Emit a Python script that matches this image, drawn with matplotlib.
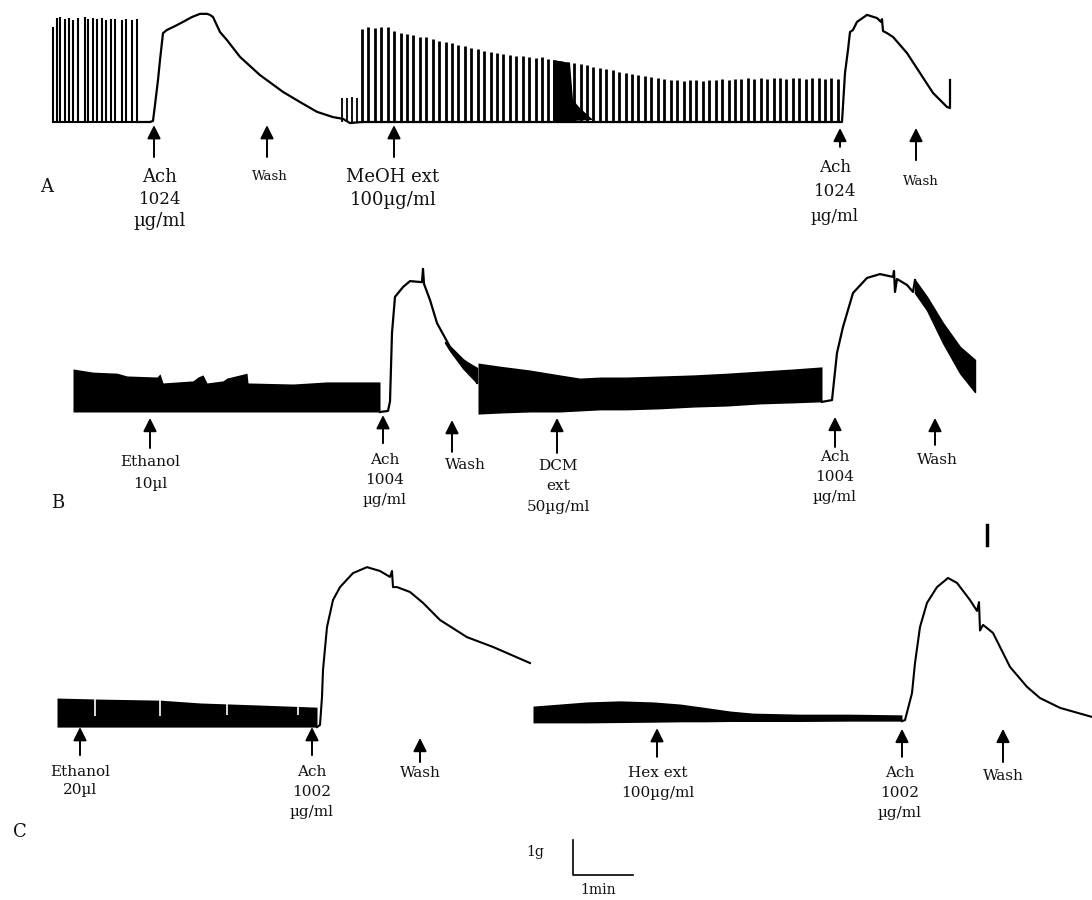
import matplotlib.pyplot as plt
import numpy as np

plt.rcParams['font.family'] = 'DejaVu Serif'

# time axis in s (60 s = 1 min on the scale bar), tension in g

# ---- trace A ----
a_pre_t = [53, 57, 60, 65, 69, 73, 78, 85, 88, 93, 97, 102, 106, 111, 115, 122, 126, 132, 137]
a_pre_h = [2.71, 2.97, 3.0, 2.94, 2.97, 2.91, 2.97, 3.0, 2.94, 2.97, 2.94, 2.97, 2.91, 2.94,
           2.94, 2.91, 2.94, 2.91, 2.94]
a_ach1_t = [137, 150, 153, 155, 158, 160, 163, 167, 175, 183, 192, 200, 207, 210, 213, 220, 227,
            240, 260, 283, 300, 317, 333, 343, 350, 362]
a_ach1_g = [0, 0, 0.03, 0.49, 1.20, 1.77, 2.54, 2.63, 2.74, 2.86, 3.0, 3.09, 3.09, 3.06, 3.0, 2.57,
            2.34, 1.86, 1.34, 0.86, 0.57, 0.29, 0.14, 0.09, -0.03, 0]
a_small_t = [342, 347, 352, 357]
a_small_h = [0.69, 0.69, 0.71, 0.69]
a_meoh_start = 362
a_meoh_period = 6.43
a_meoh_h = [2.66, 2.71, 2.69, 2.71, 2.71, 2.60, 2.54, 2.51, 2.49, 2.43, 2.43, 2.37, 2.31, 2.29, 2.26,
            2.20, 2.17, 2.11, 2.09, 2.03, 2.0, 1.97, 1.94, 1.91, 1.89, 1.89, 1.86, 1.83, 1.86, 1.80,
            1.77, 1.74, 1.71, 1.69, 1.66, 1.63, 1.57, 1.54, 1.51, 1.49, 1.43, 1.40, 1.37, 1.34, 1.31,
            1.29, 1.26, 1.23, 1.20, 1.20, 1.17, 1.20, 1.20, 1.17, 1.20, 1.20, 1.23, 1.20, 1.23, 1.23,
            1.26, 1.23, 1.26, 1.23, 1.26, 1.26, 1.23, 1.26, 1.26, 1.23, 1.26, 1.26, 1.23, 1.26, 1.23]
a_burst_t = [553, 553, 570, 573, 580, 593]
a_burst_g = [0, 1.77, 1.69, 0.63, 0.4, 0.06]
a_ach2_t = [362, 842, 845, 848, 850, 853, 857, 867, 877, 881, 882, 883, 887, 893, 907, 920, 933,
            947, 950, 950]
a_ach2_g = [0, 0, 1.4, 2.06, 2.57, 2.63, 2.86, 3.06, 2.97, 2.86, 2.94, 2.6, 2.54, 2.43, 1.97, 1.40,
            0.83, 0.43, 0.40, 1.2]
a_events = [154, 267, 394, 840, 916]

# ---- trace B ----
b_blk1_t = [73, 93, 117, 127, 157, 160, 163, 193, 198, 203, 207, 223, 227, 240, 247, 248, 293,
            327, 360, 380]
b_blk1_top = [1.23, 1.14, 1.11, 1.03, 1.0, 1.09, 0.83, 0.89, 1.0, 1.06, 0.83, 0.89, 0.97, 1.06,
              1.11, 0.83, 0.8, 0.86, 0.86, 0.86]
b_ach1_t = [380, 388, 390, 392, 395, 403, 410, 422, 423, 424, 430, 437, 450, 463, 477, 477]
b_ach1_g = [0, 0.03, 0.3, 2.26, 3.29, 3.57, 3.74, 3.71, 4.09, 3.66, 3.2, 2.54, 1.86, 1.49, 1.2, 0.83]
b_band1_t = [445, 450, 463, 477]
b_band1_top = [2.0, 1.86, 1.49, 1.26]
b_band1_bot = [1.98, 1.75, 1.25, 0.83]
b_blk2_t = [478, 500, 530, 560, 580, 600, 627, 660, 693, 727, 760, 793, 822]
b_blk2_top = [1.4, 1.31, 1.2, 1.06, 0.97, 1.0, 1.0, 1.03, 1.06, 1.11, 1.17, 1.23, 1.29]
b_blk2_bot = [-0.06, -0.03, 0, 0, 0.03, 0.06, 0.06, 0.09, 0.14, 0.17, 0.23, 0.26, 0.29]
b_ach2_t = [822, 832, 837, 843, 853, 867, 880, 893, 894, 895, 897, 907, 913, 915]
b_ach2_g = [0.29, 0.34, 1.69, 2.43, 3.4, 3.83, 3.94, 3.86, 4.03, 3.43, 3.8, 3.63, 3.43, 3.77]
b_band2_t = [915, 927, 943, 960, 975]
b_band2_top = [3.77, 3.29, 2.54, 1.86, 1.49]
b_band2_bot = [3.4, 2.91, 1.97, 1.11, 0.57]
b_events = [150, 383, 452, 557, 835, 935]

# ---- trace C ----
c_blk1_t = [57, 100, 160, 200, 260, 317]
c_blk1_top = [0.77, 0.74, 0.71, 0.63, 0.57, 0.51]
c_blk1_bot = [-0.06, -0.06, -0.06, -0.06, -0.06, -0.06]
c_gap_t = [95, 160, 227, 298]
c_gap_g = [0.25, 0.25, 0.3, 0.3]
c_ach1_t = [317, 320, 322, 323, 327, 333, 340, 353, 367, 380, 390, 392, 393, 397, 410, 423, 440,
            467, 493, 530]
c_ach1_g = [-0.06, 0, 0.8, 1.57, 2.8, 3.57, 3.94, 4.34, 4.51, 4.4, 4.23, 4.4, 3.94, 3.94, 3.8, 3.49,
            3.0, 2.51, 2.23, 1.77]
c_blk2_t = [533, 560, 587, 620, 653, 680, 703, 730, 753, 800, 850, 902]
c_blk2_top = [0.54, 0.6, 0.66, 0.69, 0.66, 0.6, 0.51, 0.4, 0.34, 0.31, 0.31, 0.29]
c_blk2_bot = [0.06, 0.06, 0.06, 0.07, 0.08, 0.09, 0.09, 0.1, 0.1, 0.1, 0.11, 0.11]
c_ach2_t = [902, 905, 912, 915, 920, 927, 937, 948, 957, 970, 977, 979, 980, 983, 987, 993, 1010,
            1027, 1040, 1060, 1092]
c_ach2_g = [0.11, 0.14, 0.91, 1.77, 2.8, 3.49, 3.94, 4.2, 4.06, 3.57, 3.26, 3.51, 2.7, 2.86, 2.77,
            2.63, 1.66, 1.09, 0.77, 0.49, 0.23]
c_events = [80, 312, 420, 657, 902, 1003]


def panel_axes(fig, top_px, bottom_px, base_px):
    # 35 px per g, 1 px per s
    ax = fig.add_axes([0, 1 - bottom_px / 900, 1, (bottom_px - top_px) / 900])
    ax.set_xlim(0, 1092)
    ax.set_ylim((base_px - bottom_px) / 35, (base_px - top_px) / 35)
    ax.axis('off')
    return ax


def arrow(ax, t, top, bottom):
    ax.annotate('', xy=(t, top), xytext=(t, bottom),
                arrowprops=dict(arrowstyle='-|>', color='k', lw=1.4,
                                mutation_scale=20, shrinkA=0, shrinkB=0))


def label(ax, t, y, text, size=11):
    ax.text(t, y, text, ha='center', va='center', fontsize=size, color='#111111')


fig = plt.figure(figsize=(10.92, 9), dpi=100)

# ---------- A ----------
ax = panel_axes(fig, 0, 240, 122)
ax.vlines(a_pre_t, 0, a_pre_h, color='k', lw=1.5)
ax.plot([a_pre_t[0], a_pre_t[-1]], [0, 0], color='k', lw=1.5)
ax.plot(a_ach1_t, a_ach1_g, color='k', lw=1.6)
ax.vlines(a_small_t, 0, a_small_h, color='k', lw=1.3)
a_meoh_t = a_meoh_start + a_meoh_period * np.arange(len(a_meoh_h))
ax.vlines(a_meoh_t, 0, a_meoh_h, color='k', lw=2.0)
ax.fill(a_burst_t, a_burst_g, color='k', lw=0)
ax.plot(a_ach2_t, a_ach2_g, color='k', lw=1.6)

arrow(ax, a_events[0], -0.09, -1.0)
arrow(ax, a_events[1], -0.09, -1.0)
arrow(ax, a_events[2], -0.09, -1.0)
arrow(ax, a_events[3], -0.17, -0.71)
arrow(ax, a_events[4], -0.17, -1.09)

label(ax, 47, -1.86, 'A', 13)
label(ax, 160, -1.57, 'Ach', 13)
label(ax, 160, -2.2, '1024', 12)
label(ax, 160, -2.83, 'µg/ml', 13)
label(ax, 270, -1.57, 'Wash', 9.5)
label(ax, 393, -1.57, 'MeOH ext', 13)
label(ax, 393, -2.23, '100µg/ml', 13)
label(ax, 835, -1.31, 'Ach', 12)
label(ax, 835, -2.0, '1024', 12)
label(ax, 835, -2.71, 'µg/ml', 12)
label(ax, 921, -1.71, 'Wash', 9.5)

# ---------- B ----------
ax = panel_axes(fig, 240, 550, 412)
ax.fill_between(b_blk1_t, 0, b_blk1_top, color='k', lw=0)
ax.plot(b_ach1_t, b_ach1_g, color='k', lw=1.6)
ax.fill_between(b_band1_t, b_band1_bot, b_band1_top, color='k', lw=1)
ax.fill_between(b_blk2_t, b_blk2_bot, b_blk2_top, color='k', lw=0)
ax.plot(b_ach2_t, b_ach2_g, color='k', lw=1.6)
ax.fill_between(b_band2_t, b_band2_bot, b_band2_top, color='k', lw=1)
ax.plot([987, 987], [-3.23, -3.8], color='k', lw=2.5)

arrow(ax, b_events[0], -0.17, -1.03)
arrow(ax, b_events[1], -0.09, -0.89)
arrow(ax, b_events[2], -0.23, -1.14)
arrow(ax, b_events[3], -0.17, -1.17)
arrow(ax, b_events[4], -0.14, -1.0)
arrow(ax, b_events[5], -0.17, -0.94)

label(ax, 58, -2.6, 'B', 13)
label(ax, 150, -1.43, 'Ethanol')
label(ax, 150, -2.06, '10µl')
label(ax, 385, -1.37, 'Ach')
label(ax, 385, -1.94, '1004')
label(ax, 385, -2.51, 'µg/ml')
label(ax, 465, -1.51, 'Wash')
label(ax, 558, -1.54, 'DCM')
label(ax, 558, -2.11, 'ext')
label(ax, 558, -2.71, '50µg/ml')
label(ax, 835, -1.29, 'Ach')
label(ax, 835, -1.86, '1004')
label(ax, 835, -2.43, 'µg/ml')
label(ax, 937, -1.37, 'Wash')

# ---------- C ----------
ax = panel_axes(fig, 550, 900, 725)
ax.fill_between(c_blk1_t, c_blk1_bot, c_blk1_top, color='k', lw=0)
ax.vlines(c_gap_t, c_gap_g, 0.8, color='white', lw=1.2)
ax.plot(c_ach1_t, c_ach1_g, color='k', lw=1.5)
ax.fill_between(c_blk2_t, c_blk2_bot, c_blk2_top, color='k', lw=0)
ax.plot(c_ach2_t, c_ach2_g, color='k', lw=1.5)

arrow(ax, c_events[0], -0.06, -0.86)
arrow(ax, c_events[1], -0.06, -0.86)
arrow(ax, c_events[2], -0.37, -1.06)
arrow(ax, c_events[3], -0.09, -0.91)
arrow(ax, c_events[4], -0.11, -0.91)
arrow(ax, c_events[5], -0.11, -1.06)

label(ax, 20, -3.06, 'C', 13)
label(ax, 80, -1.34, 'Ethanol')
label(ax, 80, -1.86, '20µl')
label(ax, 312, -1.34, 'Ach')
label(ax, 312, -1.91, '1002')
label(ax, 312, -2.49, 'µg/ml')
label(ax, 420, -1.37, 'Wash')
label(ax, 658, -1.37, 'Hex ext')
label(ax, 658, -1.94, '100µg/ml')
label(ax, 900, -1.37, 'Ach')
label(ax, 900, -1.94, '1002')
label(ax, 900, -2.51, 'µg/ml')
label(ax, 1003, -1.46, 'Wash')

# scale bar: 1 g, 1 min
ax.plot([573, 573, 633], [-3.29, -4.29, -4.29], color='k', lw=1.2)
label(ax, 535, -3.63, '1g', 10)
label(ax, 598, -4.71, '1min', 10)

fig.savefig('out.png', dpi=100)
